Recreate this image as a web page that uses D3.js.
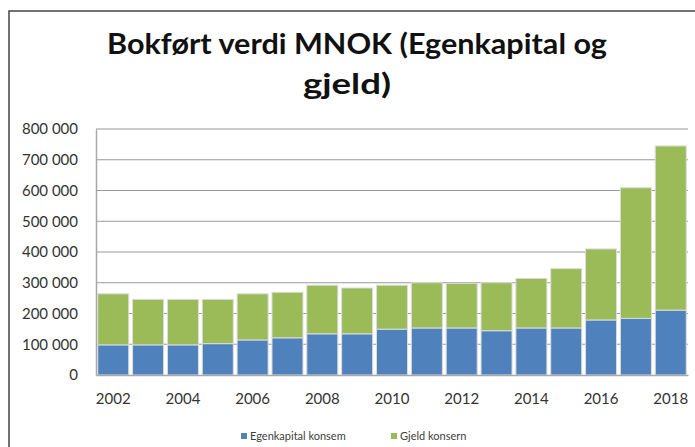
<!DOCTYPE html>
<html>
<head>
<meta charset="utf-8">
<script src="https://cdn.jsdelivr.net/npm/d3@7"></script>
<style>
  body { margin: 0; background: #fff; }
  svg { display: block; font-family: Lato, "Open Sans", sans-serif; }
</style>
</head>
<body>
<div id="chart"></div>
<script>
const years = [2002, 2003, 2004, 2005, 2006, 2007, 2008, 2009, 2010, 2011, 2012, 2013, 2014, 2015, 2016, 2017, 2018];
// MNOK
const egenkapital = [98000, 98000, 98000, 102000, 114000, 121000, 134000, 134000, 149000, 153000, 153000, 144000, 153000, 153000, 179000, 184000, 211000];
const gjeld = [166000, 148000, 148000, 144000, 150000, 148000, 158000, 149000, 143000, 147000, 145000, 156000, 161000, 193000, 231000, 425000, 534000];
const seriesNames = ['Egenkapital konsem', 'Gjeld konsern'];
const yTicks = [0, 100000, 200000, 300000, 400000, 500000, 600000, 700000, 800000];
const xTickYears = [2002, 2004, 2006, 2008, 2010, 2012, 2014, 2016, 2018];

const width = 695;
const height = 447;
const plotLeft = 96, plotRight = 688, plotTop = 129, plotBottom = 375;
const colors = ['#4f81bd', '#9bbb59'];

const rows = years.map((y, i) => ({year: y, ek: egenkapital[i], gj: gjeld[i]}));
const stacked = d3.stack().keys(['ek', 'gj'])(rows);

const svg = d3.select('#chart').append('svg').attr('width', width).attr('height', height);

// outer frame
svg.append('rect').attr('x', 9).attr('y', 11).attr('width', 720).attr('height', 460)
  .attr('fill', 'none').attr('stroke', '#444').attr('stroke-width', 1.5);

// title
const title = svg.append('text').attr('text-anchor', 'middle').attr('font-weight', 'bold')
  .attr('font-size', 28).attr('fill', '#111');
title.append('tspan').attr('x', 357).attr('y', 54).attr('textLength', 500).attr('lengthAdjust', 'spacingAndGlyphs')
  .text('Bokført verdi MNOK (Egenkapital og');
title.append('tspan').attr('x', 347).attr('y', 94).attr('textLength', 88).attr('lengthAdjust', 'spacingAndGlyphs')
  .text('gjeld)');

const x = d3.scaleBand().domain(years).range([plotLeft, plotRight]).paddingInner(0.11).paddingOuter(0.05);
const y = d3.scaleLinear().domain([0, 800000]).range([plotBottom, plotTop]);

// gridlines
svg.append('g').selectAll('line').data(yTicks.filter(d => d > 0)).enter().append('line')
  .attr('x1', plotLeft).attr('x2', plotRight).attr('y1', d => y(d)).attr('y2', d => y(d))
  .attr('stroke', '#9a9a9a').attr('stroke-width', 1.2);

// y axis
const fmt = d => d3.format(',')(d).replace(/,/g, ' ');
svg.append('g').attr('transform', `translate(${plotLeft},0)`)
  .call(d3.axisLeft(y).tickValues(yTicks).tickFormat(fmt).tickSize(0).tickPadding(18))
  .call(g => g.select('.domain').attr('stroke', '#a8a8a8').attr('stroke-width', 1.5))
  .call(g => g.selectAll('text').attr('font-size', 15).attr('fill', '#333').attr('font-family', 'Lato, sans-serif'));

// bars
svg.append('g').selectAll('g').data(stacked).enter().append('g')
  .attr('fill', (d, i) => colors[i])
  .selectAll('rect').data(d => d).enter().append('rect')
  .attr('x', d => x(d.data.year))
  .attr('y', d => y(d[1]))
  .attr('width', x.bandwidth())
  .attr('height', d => y(d[0]) - y(d[1]))
  .attr('stroke', '#dcdcdc').attr('stroke-width', 1);

// x axis
svg.append('g').attr('transform', `translate(0,${plotBottom})`)
  .call(d3.axisBottom(x).tickValues(xTickYears).tickSize(0).tickPadding(18))
  .call(g => g.select('.domain').attr('stroke', '#a8a8a8').attr('stroke-width', 1.5))
  .call(g => g.selectAll('text').attr('font-size', 15).attr('fill', '#333').attr('font-family', 'Lato, sans-serif'));

// legend
const legendX = [241, 391];
const legend = svg.append('g').selectAll('g').data(seriesNames).enter().append('g')
  .attr('transform', (d, i) => `translate(${legendX[i]},436)`);
legend.append('rect').attr('x', 0).attr('y', -3).attr('width', 6).attr('height', 6).attr('fill', (d, i) => colors[i]);
legend.append('text').attr('x', 9).attr('y', 0).attr('dy', '0.35em').attr('font-size', 11).attr('fill', '#404040').text(d => d);
</script>
</body>
</html>
